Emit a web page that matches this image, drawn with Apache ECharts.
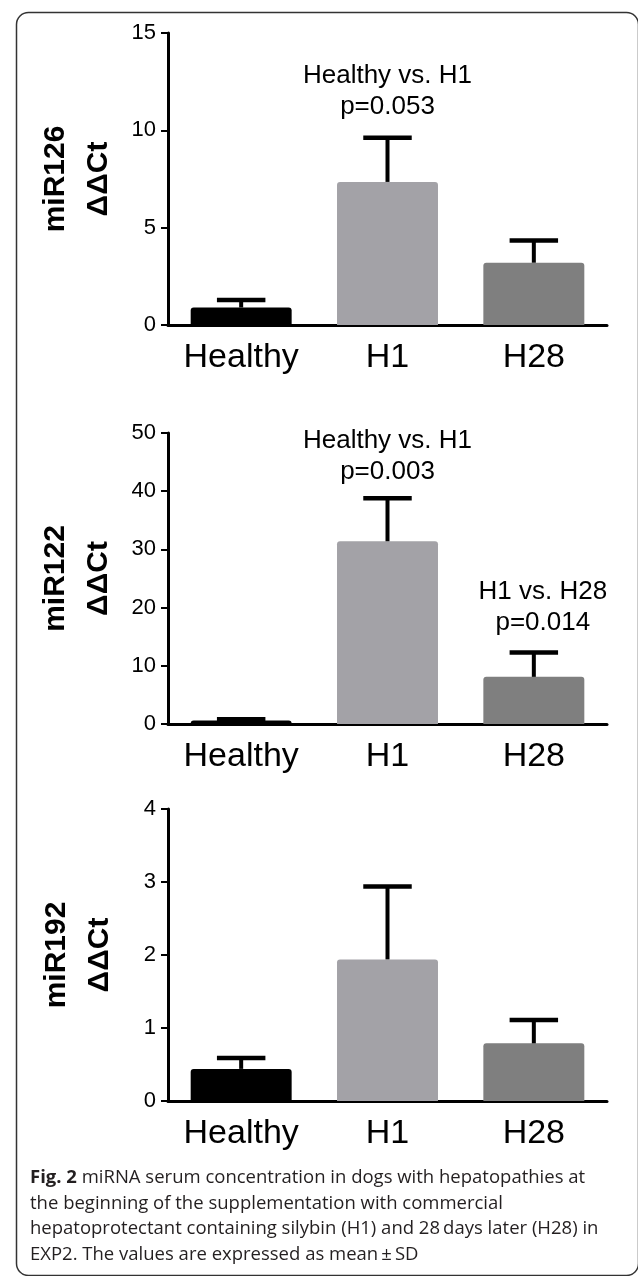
<!DOCTYPE html>
<html>
<head>
<meta charset="utf-8">
<script src="https://cdn.jsdelivr.net/npm/echarts@6/dist/echarts.min.js"></script>
<style>
html,body{margin:0;padding:0;background:#fff;}
#chart{width:638px;height:1276px;}
</style>
</head>
<body>
<div id="chart"></div>
<script>
// ---- data ----
const categories = ['Healthy', 'H1', 'H28'];
const barColors = ['#000000', '#a3a2a7', '#7f7f7f'];

const miR126Mean = [0.9, 7.35, 3.2];
const miR126SD   = [0.38, 2.27, 1.14];
const miR126Ticks = {min: 0, max: 15, interval: 5};

const miR122Mean = [0.6, 31.4, 8.1];
const miR122SD   = [0.2, 7.4, 4.2];
const miR122Ticks = {min: 0, max: 50, interval: 10};

const miR192Mean = [0.44, 1.94, 0.79];
const miR192SD   = [0.15, 1.0, 0.32];
const miR192Ticks = {min: 0, max: 4, interval: 1};

const panelNames = ['miR126\nΔΔCt', 'miR122\nΔΔCt', 'miR192\nΔΔCt'];

// annotations: [panel, category, value, text, xOffset]
const annotations = [
  [0, 'H1', 12.0, 'Healthy vs. H1\np=0.053', 0],
  [1, 'H1', 46.0, 'Healthy vs. H1\np=0.003', 0],
  [1, 'H28', 20.1, 'H1 vs. H28\np=0.014', 9]
];

const caption = '{b|Fig. 2} miRNA serum concentration in dogs with hepatopathies at\n' +
  'the beginning of the supplementation with commercial\n' +
  'hepatoprotectant containing silybin (H1) and 28\u2009days later (H28) in\n' +
  'EXP2. The values are expressed as mean\u2009\u00b1\u2009SD';

// ---- layout ----
const FONT = '"Liberation Sans", Arial, Helvetica, sans-serif';
const CAPFONT = '"Open Sans", "Noto Sans", sans-serif';
const grids = [
  {left: 168, right: 31, top: 33, height: 292},
  {left: 168, right: 31, top: 433, height: 291},
  {left: 168, right: 31, top: 809, height: 292}
];
const means = [miR126Mean, miR122Mean, miR192Mean];
const sds = [miR126SD, miR122SD, miR192SD];
const ticks = [miR126Ticks, miR122Ticks, miR192Ticks];

const xAxes = [], yAxes = [], series = [];
grids.forEach((g, i) => {
  xAxes.push({
    gridIndex: i, type: 'category', data: categories,
    axisLine: {lineStyle: {color: '#000', width: 3}},
    axisTick: {alignWithLabel: true, length: 7, lineStyle: {color: '#000', width: 3}},
    axisLabel: {color: '#000', fontSize: 34, fontFamily: FONT, margin: 16, interval: 0, hideOverlap: false}
  });
  yAxes.push({
    gridIndex: i, type: 'value', min: ticks[i].min, max: ticks[i].max, interval: ticks[i].interval,
    splitLine: {show: false},
    axisLine: {show: true, lineStyle: {color: '#000', width: 3}},
    axisTick: {show: true, length: 7, lineStyle: {color: '#000', width: 2}},
    axisLabel: {color: '#000', fontSize: 22, fontFamily: FONT, margin: 12},
    name: panelNames[i], nameLocation: 'middle', nameRotate: 90, nameGap: 47,
    nameTextStyle: {color: '#000', fontSize: 30, fontWeight: 'bold', fontFamily: FONT, lineHeight: 43}
  });
  const panelAnn = annotations.filter(a => a[0] === i);
  series.push({
    type: 'bar', xAxisIndex: i, yAxisIndex: i, barWidth: '69%',
    data: means[i].map((v, k) => ({value: v, itemStyle: {color: barColors[k], borderRadius: [3, 3, 0, 0]}})),
    markPoint: {
      symbol: 'rect', symbolSize: 1, itemStyle: {color: 'rgba(0,0,0,0)'},
      label: {show: true, position: 'inside', color: '#000', fontSize: 26, lineHeight: 31, fontFamily: FONT,
        formatter: p => p.name},
      data: panelAnn.map(a => ({name: a[3], coord: [a[1], a[2]], label: {offset: [a[4], 0]}}))
    }
  });
  series.push({
    type: 'custom', xAxisIndex: i, yAxisIndex: i, z: 5,
    data: means[i].map((v, k) => [k, v, v + sds[i][k]]),
    renderItem: function (params, api) {
      const base = api.coord([api.value(0), api.value(1)]);
      const top = api.coord([api.value(0), api.value(2)]);
      const bw = api.size([1, 0])[0] * 0.69;
      const cw = bw * 0.48;
      return {
        type: 'group',
        children: [
          {type: 'line', shape: {x1: base[0], y1: base[1], x2: top[0], y2: top[1]},
           style: {stroke: '#000', lineWidth: 4}},
          {type: 'line', shape: {x1: top[0] - cw / 2, y1: top[1], x2: top[0] + cw / 2, y2: top[1]},
           style: {stroke: '#000', lineWidth: 4.5}}
        ]
      };
    }
  });
});

const chart = echarts.init(document.getElementById('chart'), null, {renderer: 'canvas'});
chart.setOption({
  backgroundColor: '#fff',
  animation: false,
  grid: grids,
  xAxis: xAxes,
  yAxis: yAxes,
  series: series,
  graphic: [
    {type: 'rect', left: 14, top: 10, shape: {width: 622, height: 1263, r: 12},
     style: {fill: 'none', stroke: '#333', lineWidth: 1.5}, z: -1},
    {type: 'text', left: 30, top: 1165,
     style: {text: caption, fill: '#231f20', fontSize: 18.5, lineHeight: 25.5, fontFamily: CAPFONT,
       rich: {b: {fontWeight: 'bold', fill: '#231f20', fontSize: 18.5, fontFamily: CAPFONT}}}}
  ]
});
</script>
</body>
</html>
